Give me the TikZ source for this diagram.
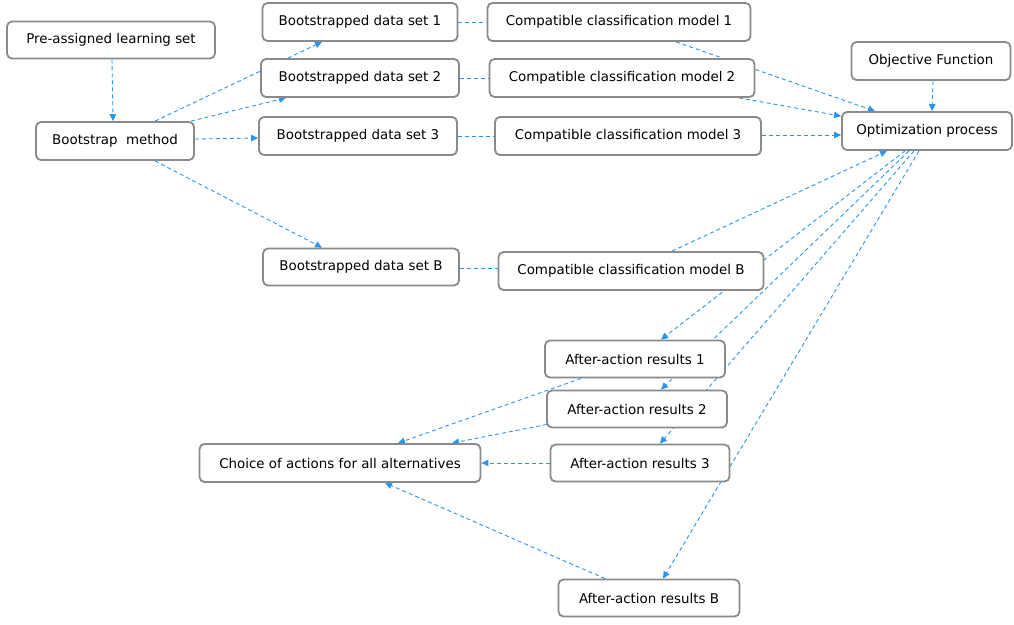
\documentclass[tikz,border=0pt]{standalone}
\usepackage{fontspec}
\setmainfont{DejaVu Sans}
\usetikzlibrary{arrows.meta,backgrounds,calc}
\definecolor{boxgray}{RGB}{138,138,138}
\definecolor{linkblue}{RGB}{40,150,240}
\begin{document}
\begin{tikzpicture}[x=1pt,y=-1pt,
  box/.style={draw=boxgray,line width=1.8pt,rounded corners=5pt,fill=white,inner sep=0pt,minimum height=37pt,font=\fontsize{13.4}{16}\selectfont},
  link/.style={draw=linkblue,line width=0.9pt,dash pattern=on 4pt off 3pt,-{Triangle[length=7pt,width=6.5pt]}},
  plainlink/.style={draw=linkblue,line width=0.9pt,dash pattern=on 4pt off 3pt}]
\useasboundingbox (0,0) rectangle (1014,624);
% nodes
\node[box,minimum width=208pt] (pre) at (111,40) {Pre-assigned learning set};
\node[box,minimum width=158pt,minimum height=38pt] (boot) at (115,141) {Bootstrap\ \ method};
\node[box,minimum width=195pt,minimum height=38pt] (bd1) at (360,22) {Bootstrapped data set 1};
\node[box,minimum width=198pt,minimum height=38pt] (bd2) at (360,78) {Bootstrapped data set 2};
\node[box,minimum width=198pt,minimum height=38pt] (bd3) at (358,136) {Bootstrapped data set 3};
\node[box,minimum width=196pt] (bdB) at (361,267) {Bootstrapped data set B};
\node[box,minimum width=263pt,minimum height=38pt] (cm1) at (619,22) {Compatible classification model 1};
\node[box,minimum width=265pt,minimum height=38pt] (cm2) at (622,78) {Compatible classification model 2};
\node[box,minimum width=266pt,minimum height=38pt] (cm3) at (628,136) {Compatible classification model 3};
\node[box,minimum width=265pt,minimum height=38pt] (cmB) at (631,271) {Compatible classification model B};
\node[box,minimum width=159pt,minimum height=38pt] (obj) at (931,61) {Objective Function};
\node[box,minimum width=170pt,minimum height=38pt] (opt) at (927,131) {Optimization process};
\node[box,minimum width=180pt] (ar1) at (635,359) {After-action results 1};
\node[box,minimum width=180pt] (ar2) at (637,409) {After-action results 2};
\node[box,minimum width=179pt] (ar3) at (640,463) {After-action results 3};
\node[box,minimum width=181pt] (arB) at (649,598) {After-action results B};
\node[box,minimum width=281pt,minimum height=38pt] (choice) at (340,463) {Choice of actions for all alternatives};
% connectors
\begin{pgfonlayer}{background}
\draw[link] ($(pre.south)+(1,0)$) -- ($(boot.north)+(-2,0)$);
\draw[link] ($(boot.north)+(40,0)$) -- ($(bd1.south)+(-38,0)$);
\draw[link] ($(boot.north east)+(-4,0)$) -- ($(bd2.south)+(-74,0)$);
\draw[link] ($(boot.east)+(0,-2)$) -- ($(bd3.west)+(0,2)$);
\draw[link] ($(boot.south)+(40,0)$) -- ($(bdB.north)+(-39,0)$);
\draw[plainlink] (bd1.east) -- (cm1.west);
\draw[plainlink] (bd2.east) -- (cm2.west);
\draw[plainlink] (bd3.east) -- (cm3.west);
\draw[plainlink] ($(bdB.east)+(0,1)$) -- ($(cmB.west)+(0,-3)$);
\draw[link] ($(cm1.south)+(57,0)$) -- ($(opt.north)+(-52,0)$);
\draw[link] ($(cm2.south)+(117,0)$) -- ($(opt.north west)+(0,5)$);
\draw[link] ($(cm3.east)+(0,-1)$) -- ($(opt.west)+(0,4)$);
\draw[link] ($(obj.south)+(2,0)$) -- ($(opt.north)+(5,0)$);
\draw[link] ($(cmB.north)+(41,0)$) -- ($(opt.south)+(-40,0)$);
\draw[link] ($(opt.south)+(-22,0)$) -- ($(ar1.north)+(26,0)$);
\draw[link] ($(opt.south)+(-18,0)$) -- ($(ar2.north)+(24,0)$);
\draw[link] ($(opt.south)+(-13,0)$) -- ($(ar3.north)+(20,0)$);
\draw[link] ($(opt.south)+(-8,0)$) -- ($(arB.north)+(14,0)$);
\draw[link] ($(ar1.south west)+(37,0)$) -- ($(choice.north)+(58,0)$);
\draw[link] ($(ar2.south west)+(1,-4)$) -- ($(choice.north)+(112,0)$);
\draw[link] (ar3.west) -- (choice.east);
\draw[link] ($(arB.north)+(-44,0)$) -- ($(choice.south)+(45,0)$);
\end{pgfonlayer}
\end{tikzpicture}
\end{document}
